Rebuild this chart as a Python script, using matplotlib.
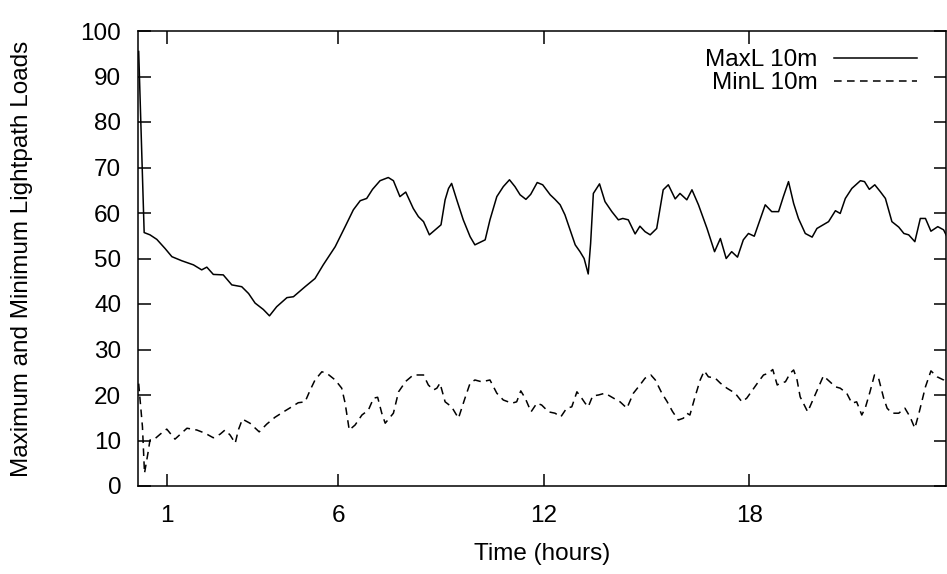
import matplotlib
matplotlib.use('Agg')
import matplotlib.pyplot as plt

# Kurvenpunkte (Stunden, Last)
max_time = [0.17, 0.33, 0.50, 0.70, 0.94, 1.14, 1.43, 1.77, 2.01, 2.16, 2.35, 2.64, 2.89, 3.18,
            3.38, 3.57, 3.81, 3.99, 4.20, 4.50, 4.69, 5.03, 5.32, 5.56, 5.91, 6.20, 6.44, 6.64,
            6.83, 7.00, 7.22, 7.46, 7.61, 7.80, 7.97, 8.19, 8.34, 8.49, 8.66, 8.83, 9.00, 9.12,
            9.22, 9.31, 9.46, 9.65, 9.85, 9.99, 10.29, 10.43, 10.63, 10.82, 11.00, 11.16, 11.31,
            11.48, 11.62, 11.81, 11.97, 12.19, 12.33, 12.48, 12.62, 12.77, 12.92, 13.06, 13.18,
            13.30, 13.37, 13.45, 13.63, 13.79, 13.99, 14.18, 14.31, 14.47, 14.67, 14.81, 14.96,
            15.11, 15.30, 15.49, 15.64, 15.84, 15.98, 16.18, 16.33, 16.52, 16.77, 16.99, 17.16,
            17.33, 17.49, 17.66, 17.83, 17.98, 18.15, 18.47, 18.66, 18.86, 19.00, 19.15, 19.30,
            19.44, 19.64, 19.84, 19.98, 20.32, 20.52, 20.66, 20.81, 21.00, 21.25, 21.37, 21.51,
            21.67, 21.83, 21.98, 22.17, 22.37, 22.52, 22.66, 22.84, 23.00, 23.15, 23.31, 23.51,
            23.68, 23.83]
max_load = [95.5, 55.7, 55.2, 54.2, 52.2, 50.4, 49.5, 48.6, 47.5, 48.1, 46.5, 46.4, 44.2, 43.8,
            42.3, 40.2, 38.8, 37.4, 39.4, 41.4, 41.6, 43.8, 45.6, 48.6, 52.6, 57.0, 60.7, 62.7,
            63.2, 65.2, 67.1, 67.8, 67.1, 63.6, 64.6, 61.0, 59.2, 58.1, 55.2, 56.3, 57.4, 62.9,
            65.4, 66.5, 62.9, 58.5, 54.8, 53.0, 54.1, 58.5, 63.6, 65.8, 67.3, 65.8, 64.0,
            63.0, 64.1, 66.7, 66.2, 64.0, 63.0, 61.8, 59.6, 56.3, 53.0, 51.5, 50.0,
            46.6, 53.3, 64.3, 66.4, 62.5, 60.3, 58.5, 58.8, 58.5, 55.4, 57.1, 55.9,
            55.2, 56.6, 65.1, 66.2, 63.1, 64.3, 62.9, 65.1, 61.8, 56.6, 51.5, 54.4,
            50.0, 51.5, 50.3, 54.1, 55.5, 54.9, 61.8, 60.3, 60.3, 63.6, 66.9, 62.1,
            58.8, 55.5, 54.7, 56.6, 58.1, 60.5, 59.9, 63.2, 65.4, 67.1, 66.9, 65.2,
            66.2, 64.7, 63.2, 58.1, 56.9, 55.5, 55.2, 53.7, 58.8, 58.8, 56.0, 57.0,
            56.3, 54.0]

min_time = [0.17, 0.28, 0.34, 0.44, 0.50, 0.60, 0.80, 0.99, 1.23, 1.58, 1.87, 2.11, 2.35, 2.55,
            2.69, 2.84, 2.99, 3.08, 3.20, 3.42, 3.69, 3.91, 4.15, 4.40, 4.64, 4.83, 5.03, 5.18,
            5.32, 5.52, 5.66, 5.91, 6.10, 6.20, 6.32, 6.49, 6.69, 6.88, 7.03, 7.15, 7.27, 7.37,
            7.61, 7.76, 7.97, 8.19, 8.49, 8.63, 8.78, 8.88, 8.97, 9.12, 9.31, 9.51, 9.70, 9.85,
            9.99, 10.19, 10.43, 10.63, 10.82, 11.07, 11.21, 11.33, 11.46, 11.63, 11.80, 11.94,
            12.14, 12.33, 12.50, 12.67, 12.82, 12.97, 13.11, 13.21, 13.30, 13.43, 13.60, 13.79,
            14.04, 14.23, 14.43, 14.62, 14.81, 14.96, 15.13, 15.26, 15.45, 15.60, 15.76, 15.93,
            16.08, 16.18, 16.27, 16.42, 16.57, 16.69, 16.81, 17.01, 17.16, 17.35, 17.59, 17.79,
            17.93, 18.10, 18.27, 18.42, 18.57, 18.69, 18.82, 18.91, 19.06, 19.20, 19.30, 19.40,
            19.49, 19.71, 19.86, 20.03, 20.17, 20.36, 20.52, 20.66, 20.85, 21.00, 21.14, 21.29,
            21.39, 21.53, 21.66, 21.78, 21.93, 22.03, 22.17, 22.37, 22.55, 22.70, 22.84, 22.96,
            23.15, 23.31, 23.49, 23.68, 23.83]
min_load = [22.5, 13.0, 2.8, 7.2, 10.1, 10.1, 11.4, 12.5, 10.3, 12.7, 12.3, 11.6, 10.6, 11.4,
            12.3, 11.2, 9.4, 12.3, 14.7, 13.8, 11.9, 13.6, 15.1, 16.3, 17.4, 18.3, 18.5, 21.1,
            23.3, 25.1, 24.8, 23.3, 21.5, 18.2, 12.3, 13.4, 15.6, 16.7, 19.3, 19.5, 16.0, 13.8,
            16.0, 20.7, 23.0, 24.4, 24.4, 22.2, 21.1, 21.5, 22.6, 18.5, 17.4, 14.9, 19.3, 22.6,
            23.3, 22.9, 23.3, 20.4, 18.9, 18.2, 18.5, 20.9, 19.3, 16.3, 18.2, 17.8,
            16.3, 16.0, 15.2, 17.1, 17.4, 20.7, 19.3, 18.2, 17.4, 19.8, 20.0, 20.4,
            19.3, 18.5, 17.1, 20.4, 22.2, 23.7, 24.4, 23.3, 20.4, 18.6, 16.4, 14.5,
            14.9, 16.0, 15.6, 19.6, 23.3, 25.3, 24.0, 23.7, 22.6, 21.5, 20.4, 18.5,
            19.3, 21.1, 22.9, 24.4, 24.8, 25.6, 22.2, 22.6, 22.9, 24.8, 25.5, 23.3,
            19.6, 16.3, 18.9, 21.8, 24.2, 22.9, 21.8, 21.5, 20.4, 18.2, 18.5, 15.6,
            17.1, 20.7, 24.4, 23.7, 19.3, 17.1, 16.0, 16.0, 17.1, 15.2, 12.7, 16.0,
            21.8, 25.3, 24.0, 23.3, 21.5]

x_ticks = [1, 6, 12, 18]
y_ticks = list(range(0, 101, 10))

plt.rcParams['font.family'] = ['Liberation Sans', 'DejaVu Sans']
fs = 17.5

fig = plt.figure(figsize=(9.47, 5.74), dpi=100)
ax = fig.add_axes([138 / 947, 1 - 486 / 574, 808 / 947, 455 / 574])

ax.plot(max_time, max_load, color='black', lw=1.1, label='MaxL 10m')
ax.plot(min_time, min_load, color='black', lw=1.1, dashes=(5, 3.5), label='MinL 10m')

ax.set_xlim(0.15, 23.75)
ax.set_ylim(0, 100)
ax.set_xticks(x_ticks)
ax.set_yticks(y_ticks)
ax.tick_params(direction='in', length=9, width=1.1, top=True, right=True,
               labelsize=fs, color='black')
ax.tick_params(axis='x', pad=14)
ax.tick_params(axis='y', pad=12)
for s in ax.spines.values():
    s.set_linewidth(1.1)

ax.set_xlabel('Time (hours)', fontsize=fs)
ax.set_ylabel('Maximum and Minimum Lightpath Loads', fontsize=fs)
ax.xaxis.set_label_coords(0.5, -0.125)
ax.yaxis.set_label_coords(-0.13, 0.5)

ax.legend(loc='upper right', bbox_to_anchor=(917 / 947, 1 - 49 / 574),
          bbox_transform=fig.transFigure, frameon=False, markerfirst=False,
          fontsize=fs, handlelength=3.4, handletextpad=0.7, labelspacing=0.05,
          borderpad=0, borderaxespad=0)

fig.savefig('out.png', dpi=100)
